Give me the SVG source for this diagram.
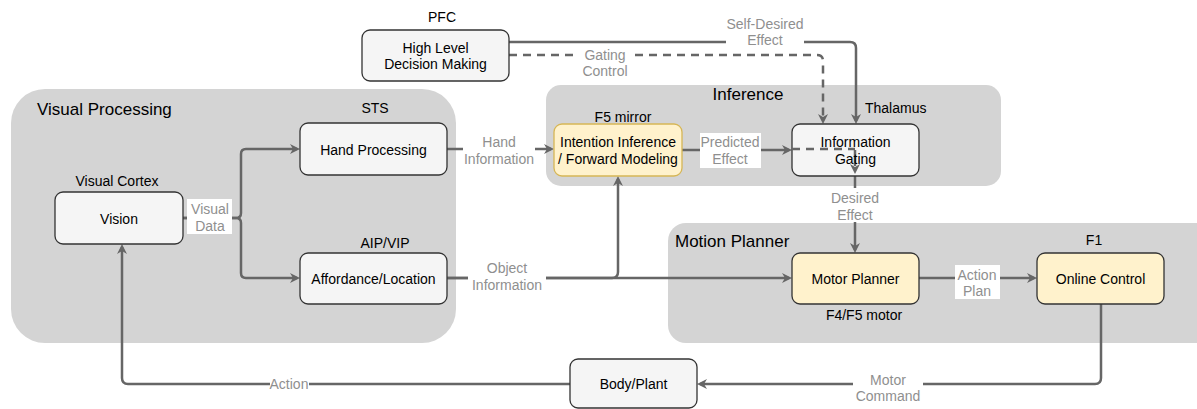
<svg xmlns="http://www.w3.org/2000/svg" width="1197" height="409" viewBox="0 0 1197 409">
<style>
.grp{fill:#d4d4d4;stroke:none}
.gt{font-family:"Liberation Sans",Arial,sans-serif;font-size:17px;fill:#000}
.node{fill:#f5f5f5;stroke:#333;stroke-width:1.3}
.ynode{fill:#fff2cc;stroke:#333;stroke-width:1.3}
.ynode2{fill:#fff2cc;stroke:#d6b656;stroke-width:1.3}
.t{font-family:"Liberation Sans",Arial,sans-serif;font-size:14px;fill:#000;text-anchor:middle}
.ts{font-family:"Liberation Sans",Arial,sans-serif;font-size:14px;fill:#000}
.lbl{font-family:"Liberation Sans",Arial,sans-serif;font-size:14px;fill:#8f8f8f;text-anchor:middle}
.e{fill:none;stroke:#666;stroke-width:2.5}
.d{stroke-dasharray:8 6}
.bg{fill:#fff}
</style>
<defs>
<marker id="ar" viewBox="-11 -6 12 12" refX="-3" refY="0" markerWidth="12" markerHeight="12" markerUnits="userSpaceOnUse" orient="auto">
<path d="M-10,-5 L0,0 L-10,5 L-7,0 Z" fill="#666"/>
</marker>
</defs>

<g id="group-visual">
<rect class="grp" x="11" y="89" width="445" height="254" rx="34"/>
<text class="gt" x="37" y="115">Visual Processing</text>
</g>
<g id="group-inference">
<rect class="grp" x="546" y="85" width="455" height="101" rx="15"/>
<text class="gt" x="748" y="100" text-anchor="middle">Inference</text>
</g>
<g id="group-motion">
<rect class="grp" x="668" y="223" width="545" height="120" rx="18"/>
<text class="gt" x="675" y="247">Motion Planner</text>
</g>

<g id="connectors">
<path class="e" marker-end="url(#ar)" d="M183,218 L236,218 Q241,218 241,213 L241,154 Q241,149 246,149 L297,149"/>
<path class="e" marker-end="url(#ar)" d="M183,218 L236,218 Q241,218 241,223 L241,273 Q241,278 246,278 L297,278"/>
<path class="e" marker-end="url(#ar)" d="M447,149 L551,149"/>
<path class="e" marker-end="url(#ar)" d="M447,278 L789,278"/>
<path class="e" marker-end="url(#ar)" d="M447,278 L612,278 Q618,278 618,272 L618,179"/>
<path class="e" marker-end="url(#ar)" d="M682,150 L789,150"/>
<path class="e" marker-end="url(#ar)" d="M855,176 L855,250"/>
<path class="e" marker-end="url(#ar)" d="M919,278 L1034,278"/>
<path class="e" marker-end="url(#ar)" d="M1101,304 L1101,378 Q1101,384 1095,384 L700,384"/>
<path class="e" marker-end="url(#ar)" d="M570,384 L128,384 Q122,384 122,378 L122,247"/>
<path class="e" marker-end="url(#ar)" d="M509,42 L850,42 Q856,42 856,48 L856,121"/>
<path class="e d" marker-end="url(#ar)" d="M509,55 L817,55 Q823,55 823,61 L823,121"/>

<rect class="bg" x="187" y="199" width="45" height="35"/>
<text class="lbl" x="210" y="214">Visual</text>
<text class="lbl" x="210" y="231">Data</text>

<rect class="bg" x="463" y="133" width="72" height="34"/>
<text class="lbl" x="499" y="147">Hand</text>
<text class="lbl" x="499" y="164">Information</text>

<rect class="bg" x="468" y="260" width="78" height="34"/>
<text class="lbl" x="507" y="273">Object</text>
<text class="lbl" x="507" y="290">Information</text>

<rect class="bg" x="700" y="133" width="61" height="35"/>
<text class="lbl" x="730" y="147">Predicted</text>
<text class="lbl" x="730" y="164">Effect</text>

<rect class="bg" x="826" y="188" width="58" height="34"/>
<text class="lbl" x="855" y="203">Desired</text>
<text class="lbl" x="855" y="220">Effect</text>

<rect class="bg" x="955" y="265" width="45" height="34"/>
<text class="lbl" x="977" y="280">Action</text>
<text class="lbl" x="977" y="296">Plan</text>

<rect class="bg" x="853" y="370" width="70" height="36"/>
<text class="lbl" x="888" y="385">Motor</text>
<text class="lbl" x="888" y="401">Command</text>

<rect class="bg" x="270" y="376" width="39" height="16"/>
<text class="lbl" x="289" y="389">Action</text>

<rect class="bg" x="726" y="14" width="78" height="34"/>
<text class="lbl" x="765" y="29">Self-Desired</text>
<text class="lbl" x="765" y="45">Effect</text>

<rect class="bg" x="578" y="47" width="55" height="32"/>
<text class="lbl" x="605" y="60">Gating</text>
<text class="lbl" x="605" y="76">Control</text>
</g>

<g id="node-pfc">
<text class="t" x="442" y="22">PFC</text>
<rect class="node" x="362" y="30" width="147" height="51" rx="8"/>
<text class="t" x="435.5" y="53">High Level</text>
<text class="t" x="435.5" y="69">Decision Making</text>
</g>

<g id="node-vision">
<text class="t" x="117" y="186">Visual Cortex</text>
<rect class="node" x="55" y="192" width="128" height="52" rx="8"/>
<text class="t" x="119" y="224">Vision</text>
</g>

<g id="node-hand">
<text class="t" x="375" y="113">STS</text>
<rect class="node" x="300" y="123" width="147" height="52" rx="8"/>
<text class="t" x="373.5" y="155">Hand Processing</text>
</g>

<g id="node-affordance">
<text class="t" x="385" y="248">AIP/VIP</text>
<rect class="node" x="300" y="253" width="147" height="51" rx="8"/>
<text class="t" x="373.5" y="284">Affordance/Location</text>
</g>

<g id="node-intention">
<text class="t" x="623" y="122">F5 mirror</text>
<rect class="ynode2" x="554" y="124" width="128" height="52" rx="8"/>
<text class="t" x="618" y="147">Intention Inference</text>
<text class="t" x="618" y="164">/ Forward Modeling</text>
</g>

<g id="node-gating">
<text class="ts" x="865" y="113">Thalamus</text>
<rect class="node" x="792" y="124" width="127" height="52" rx="8"/>
<path class="e d" stroke-width="2" d="M792,149 L855,149"/>
<path class="e" d="M855,150 L855,166"/>
<path d="M850,164 L855,174 L860,164 L855,167 Z" fill="#666"/>
<text class="t" x="855.5" y="147">Information</text>
<text class="t" x="855.5" y="164">Gating</text>
</g>

<g id="node-motor-planner">
<rect class="ynode" x="792" y="253" width="127" height="51" rx="8"/>
<text class="t" x="855.5" y="284">Motor Planner</text>
<text class="t" x="864" y="320">F4/F5 motor</text>
</g>

<g id="node-online">
<text class="t" x="1094" y="245">F1</text>
<rect class="ynode" x="1037" y="253" width="127" height="51" rx="8"/>
<text class="t" x="1100.5" y="284">Online Control</text>
</g>

<g id="node-body">
<rect class="node" x="570" y="359" width="127" height="49" rx="8"/>
<text class="t" x="633.5" y="389">Body/Plant</text>
</g>
</svg>
